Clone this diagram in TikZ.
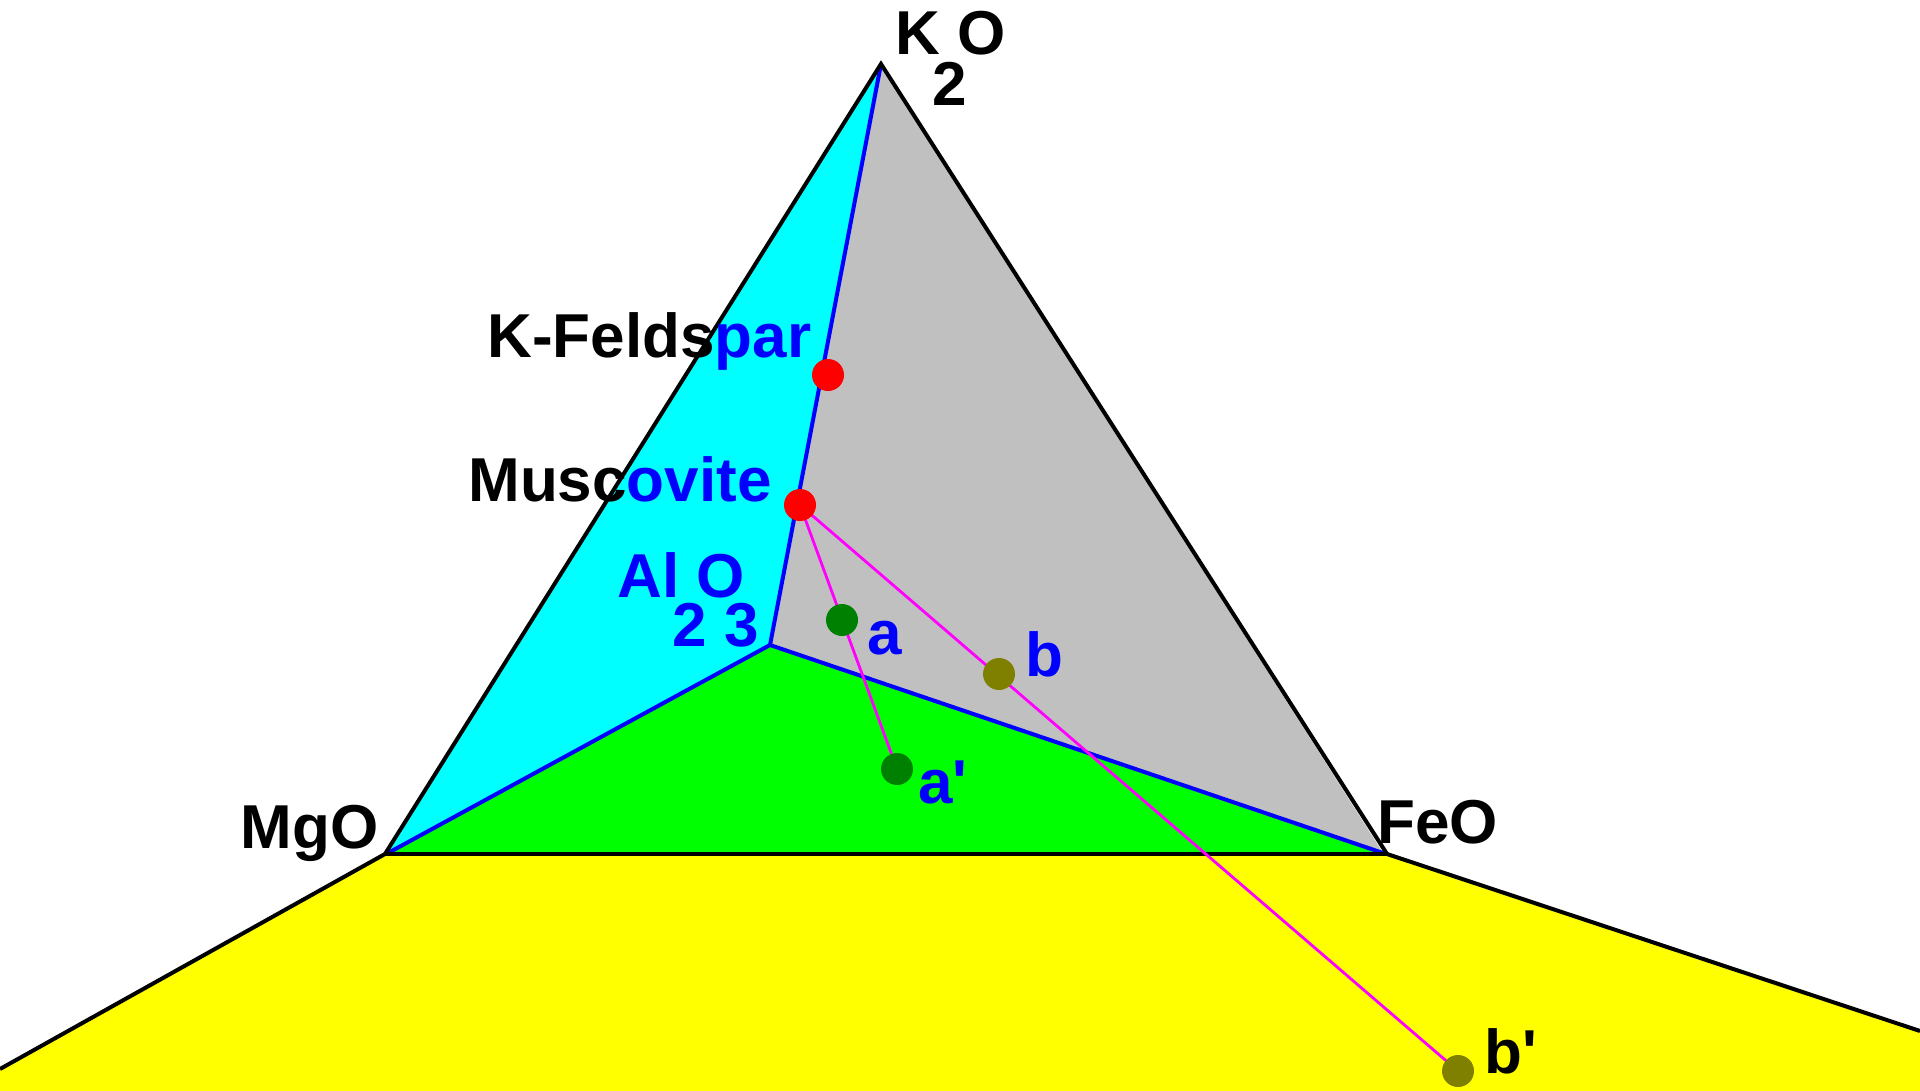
\documentclass[tikz,border=0pt]{standalone}
\usepackage{fontspec}
\setmainfont{Liberation Sans}
\usepackage{xcolor}
\definecolor{pcyan}{RGB}{0,255,255}
\definecolor{pgray}{RGB}{192,192,192}
\definecolor{pgreen}{RGB}{0,255,0}
\definecolor{pyellow}{RGB}{255,255,0}
\definecolor{pblue}{RGB}{0,0,255}
\definecolor{pred}{RGB}{255,0,0}
\definecolor{pdkgreen}{RGB}{0,128,0}
\definecolor{polive}{RGB}{128,128,0}
\definecolor{pmagenta}{RGB}{255,0,255}
\usetikzlibrary{positioning}

\begin{document}
\begin{tikzpicture}[x=0.5pt, y=-0.5pt,
  lbl/.style={font=\fontsize{31}{31}\selectfont\bfseries, inner sep=0pt, anchor=base west},
  dot/.style={circle, inner sep=0pt, minimum size=16pt},
  tie/.style={pmagenta, line width=1.4pt}]
  \useasboundingbox[fill=white] (0,0) rectangle (1920,1091);

  % corners
  \coordinate (k2o) at (881,64);
  \coordinate (mg) at (388,853);
  \coordinate (fe) at (1383,853);
  \coordinate (al) at (770,645);
  \coordinate (mgb) at (385,854);
  \coordinate (feb) at (1387,854);
  \coordinate (lend) at (0,1069);
  \coordinate (rend) at (1920,1031);

  % points
  \coordinate (kf) at (828,375);
  \coordinate (mu) at (800,505);
  \coordinate (pa) at (842,620);
  \coordinate (pap) at (897,769);
  \coordinate (pb) at (999,674);
  \coordinate (pbp) at (1458,1071);

  % Yellow field below
  \fill[pyellow] (mgb) -- (feb) -- (rend) -- (1920,1091) -- (0,1091) -- (lend) -- cycle;

  % Three sub-triangles
  \fill[pcyan] (k2o) -- (mg) -- (al) -- cycle;
  \fill[pgray] (k2o) -- (al) -- (fe) -- cycle;
  \fill[pgreen] (mg) -- (al) -- (fe) -- cycle;

  \draw[pblue, line width=2pt] (k2o) -- (al);
  \draw[pblue, line width=2pt] (mg) -- (al) -- (fe);

  \draw[line width=2pt] (lend) -- (mgb) -- (k2o) -- (feb) -- (rend);
  \draw[line width=2.4pt] (mgb) -- (feb);

  % Tie lines
  \draw[tie] (mu) -- (pap);
  \draw[tie] (mu) -- (pbp);

  \node[dot, fill=pred] (kfsp) at (kf) {};
  \node[dot, fill=pred] (musc) at (mu) {};
  \node[dot, fill=pdkgreen] (ra) at (pa) {};
  \node[dot, fill=pdkgreen] (rap) at (pap) {};
  \node[dot, fill=polive] (rb) at (pb) {};
  \node[dot, fill=polive] (rbp) at (pbp) {};

  % Labels
  \node[lbl] (ko) at (895,55) {K O};
  \node[lbl] (kosub) at (932,106) {2};
  \node[lbl] (kfsplbl) at (487,357) {K-Felds\textcolor{pblue}{par}};
  \node[lbl] (musclbl) at (468,501) {Musc\textcolor{pblue}{ovite}};
  \node[lbl, pblue] (alo) at (617,597) {Al O};
  \node[lbl, pblue] (alosub) at (672,646) {2 3};
  \node[lbl, anchor=base east] (mgo) at (379,848) {MgO};
  \node[lbl] (feo) at (1377,843) {FeO};
  \node[lbl, pblue] (albla) at (867,654) {a};
  \node[lbl, pblue] (lblap) at (918,803) {a\textquotesingle};
  \node[lbl, pblue] (lblb) at (1025,676) {b};
  \node[lbl] (lblbp) at (1484,1073) {b\textquotesingle};
\end{tikzpicture}
\end{document}
